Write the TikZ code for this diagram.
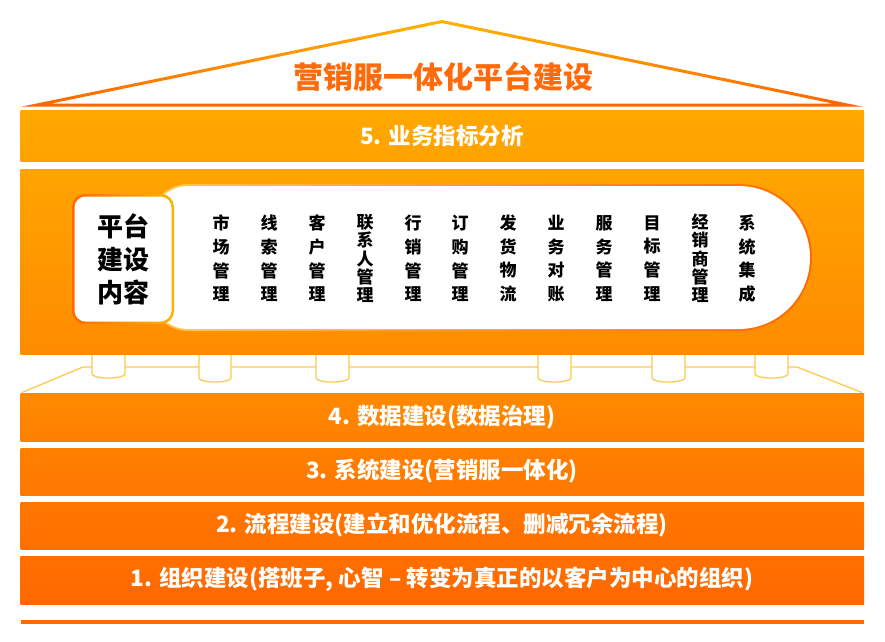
\documentclass[tikz,border=0pt]{standalone}
\usepackage{fontspec}
\setmainfont{Noto Sans CJK SC}
\definecolor{roofT}{HTML}{FFB400}
\definecolor{roofB}{HTML}{FF6400}
\definecolor{titleC}{HTML}{FF6A0A}
\definecolor{plat}{HTML}{FFC850}
\definecolor{b5t}{HTML}{FFA800}
\definecolor{b5b}{HTML}{FFA200}
\definecolor{pant}{HTML}{FFA400}
\definecolor{panb}{HTML}{FF8B00}
\definecolor{pillL}{HTML}{FFC850}
\definecolor{pillR}{HTML}{FF6800}
\definecolor{boxL}{HTML}{FF6A00}
\definecolor{boxR}{HTML}{FFB400}
\definecolor{b4t}{HTML}{FF8A00}
\definecolor{b4b}{HTML}{FF8000}
\definecolor{b3t}{HTML}{FF7F00}
\definecolor{b3b}{HTML}{FF7800}
\definecolor{b2t}{HTML}{FF7700}
\definecolor{b2b}{HTML}{FF7000}
\definecolor{b1t}{HTML}{FF6F00}
\definecolor{b1b}{HTML}{FF6800}
\definecolor{lineC}{HTML}{FF6A00}
\begin{document}
\begin{tikzpicture}[x=1pt,y=-1pt,
  bandtext/.style={text=white,font=\fontsize{22.5}{26}\selectfont\bfseries},
  colfour/.style={align=center,text=black,font=\fontsize{17}{23.7}\selectfont\bfseries,inner sep=0pt},
  colfive/.style={align=center,text=black,font=\fontsize{17}{18.3}\selectfont\bfseries,inner sep=0pt},
  platline/.style={draw=plat,line width=1.3pt},
  pillar/.style={fill=white,draw=plat,line width=1.3pt}]
\useasboundingbox (0,0) rectangle (885,641);
% roof
\shade[top color=roofT,bottom color=roofB,even odd rule]
  (442,20) -- (22,106.5) -- (862,106.5) -- cycle
  (442,23.1) -- (51.4,103.5) -- (832.6,103.5) -- cycle;
\node[text=titleC,font=\fontsize{30}{33}\selectfont\bfseries] (title) at (443,77) {营销服一体化平台建设};
% band 5
\shade[top color=b5t,bottom color=b5b] (20.5,110.5) rectangle (864,161.5);
\node[bandtext] (b5) at (442,136) {5. 业务指标分析};
% platform
\draw[plat,line width=1pt] (20.5,393) -- (864,393);
\draw[platline] (22,392.5) -- (83,367) -- (797,367) -- (862,392.5);
% pillars
\foreach \xa/\xb/\yb in {92/125/378,199/231/382,316/349/382,538/571/382,652/685/382,755/788/378}{
  \path[pillar] (\xa,350) -- (\xa,\yb-4) arc[start angle=180,end angle=0,x radius={(\xb-\xa)/2},y radius=4] -- (\xb,350);
}
% main panel
\shade[top color=pant,bottom color=panb] (20.5,169) rectangle (864,354);
% pill
\shade[left color=pillL,right color=pillR]
  (188,184) -- (738.5,184) arc[start angle=-90,end angle=90,radius=73.5] -- (188,331)
  arc[start angle=90,end angle=180,radius=38] -- (150,222) arc[start angle=180,end angle=270,radius=38] -- cycle;
\fill[white]
  (188,186) -- (738.5,186) arc[start angle=-90,end angle=90,radius=71.5] -- (188,329)
  arc[start angle=90,end angle=180,radius=36] -- (152,222) arc[start angle=180,end angle=270,radius=36] -- cycle;
% left box
\shade[rounded corners=13,left color=boxL,right color=boxR] (72,194) rectangle (174,324);
\fill[white,rounded corners=11] (74.5,196.5) rectangle (171.5,321.5);
\node[align=center,font=\fontsize{26}{33}\selectfont\bfseries,inner sep=0pt] (box) at (123,259) {平台\\建设\\内容};
% columns
\node[colfour] (c1) at (221,258.5) {市\\场\\管\\理};
\node[colfour] (c2) at (269,258.5) {线\\索\\管\\理};
\node[colfour] (c3) at (317,258.5) {客\\户\\管\\理};
\node[colfive] (c4) at (365,258.5) {联\\系\\人\\管\\理};
\node[colfour] (c5) at (413,258.5) {行\\销\\管\\理};
\node[colfour] (c6) at (460,258.5) {订\\购\\管\\理};
\node[colfour] (c7) at (508,258.5) {发\\货\\物\\流};
\node[colfour] (c8) at (556,258.5) {业\\务\\对\\账};
\node[colfour] (c9) at (604,258.5) {服\\务\\管\\理};
\node[colfour] (c10) at (652,258.5) {目\\标\\管\\理};
\node[colfive] (c11) at (700,258.5) {经\\销\\商\\管\\理};
\node[colfour] (c12) at (747,258.5) {系\\统\\集\\成};
% lower bands
\shade[top color=b4t,bottom color=b4b] (20.5,393.5) rectangle (864,441.7);
\node[bandtext] (b4) at (442,417) {4. 数据建设(数据治理)};
\shade[top color=b3t,bottom color=b3b] (20.5,448) rectangle (864,495.7);
\node[bandtext] (b3) at (442,471.5) {3. 系统建设(营销服一体化)};
\shade[top color=b2t,bottom color=b2b] (20.5,502) rectangle (864,549.5);
\node[bandtext] (b2) at (442,525.5) {2. 流程建设(建立和优化流程、删减冗余流程)};
\shade[top color=b1t,bottom color=b1b] (20.5,556) rectangle (864,604);
\node[bandtext] (b1) at (442,579.5) {1. 组织建设(搭班子, 心智 – 转变为真正的以客户为中心的组织)};
\fill[lineC] (20.5,620) rectangle (864,624);
\end{tikzpicture}
\end{document}
